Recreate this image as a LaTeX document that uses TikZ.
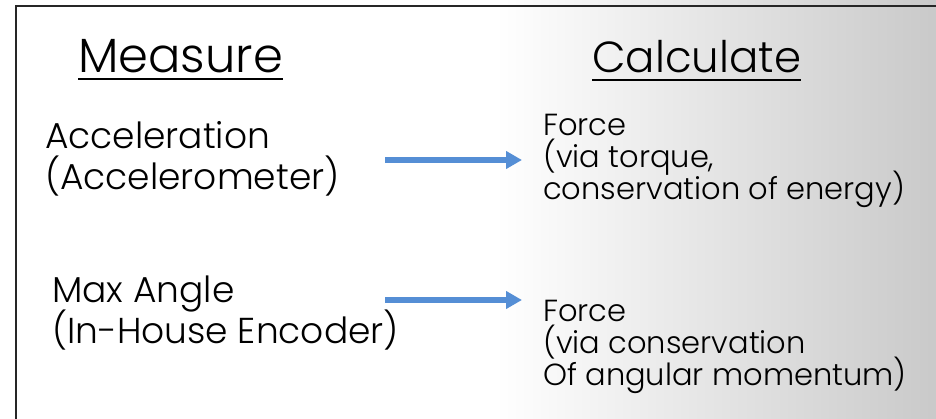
\documentclass[tikz,border=0pt]{standalone}
\usepackage{fontspec}
\setmainfont{Poppins}[UprightFont=* Light]
\usetikzlibrary{arrows.meta}
\definecolor{arrowblue}{RGB}{85,142,213}
% fixed line pitch, whatever the glyph heights
\newcommand{\fixedpitch}{\lineskiplimit=-100pt\relax}
\begin{document}
\begin{tikzpicture}[x=1pt,y=-1pt,
  txt/.style={inner sep=0pt, anchor=base west, align=left},
  head/.style={txt},
  lefttxt/.style={txt, font=\fontsize{36}{41}\selectfont\fixedpitch},
  righttxt/.style={txt, font=\fontsize{30.5}{32}\selectfont\fixedpitch},
  flow/.style={draw=arrowblue, line width=5.5pt,
    -{Triangle[length=16pt,width=17pt]}},
  uline/.style={line width=2pt}]
  % page and background gradient
  \useasboundingbox (0,0) rectangle (936,419);
  \fill[white] (0,0) rectangle (936,419);
  \shade[left color=white, right color=black!21] (495,0) rectangle (936,419);
  % frame (open towards the right and bottom)
  \draw[black!85, line width=2pt] (16,419) -- (16,6) -- (936,6);

  % column headings
  \node[head, font=\fontsize{48}{50}\selectfont] (meas) at (78,73) {Measure};
  \node[head, font=\fontsize{43.5}{50}\selectfont] (calc) at (592,73) {Calculate};
  \draw[uline] ([yshift=-6pt]meas.base west) -- ([yshift=-6pt]meas.base east);
  \draw[uline] ([yshift=-7pt]calc.base west) -- ([yshift=-7pt]calc.base east);

  % first row (node base = baseline of the last line)
  \node[lefttxt] (acc) at (45,190) {Acceleration\\(Accelerometer)};
  \node[righttxt] (f1) at (543,200) {Force\\(via torque,\\conservation of energy)};
  \coordinate (a1s) at (385,160);
  \coordinate (a1e) at (522,160);
  \draw[flow] (a1s) -- (a1e);

  % second row
  \node[lefttxt] (ang) at (52,343) {Max Angle\\(In-House Encoder)};
  \node[righttxt] (f2) at (543,385) {Force\\(via conservation\\Of angular momentum)};
  \coordinate (a2s) at (385,300);
  \coordinate (a2e) at (522,300);
  \draw[flow] (a2s) -- (a2e);
\end{tikzpicture}
\end{document}
